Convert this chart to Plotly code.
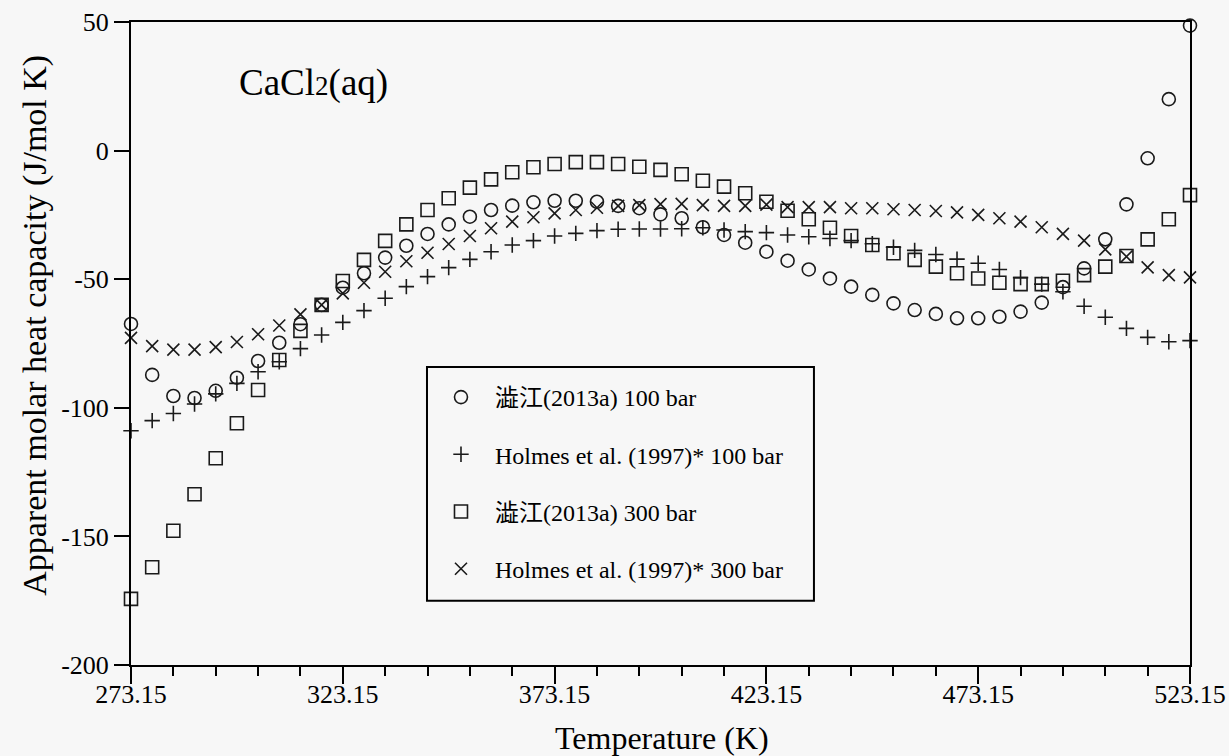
import plotly.graph_objects as go

# Temperature grid (K)
temperature_K = [
    273.15, 278.15, 283.15, 288.15, 293.15, 298.15, 303.15, 308.15, 313.15, 318.15,
    323.15, 328.15, 333.15, 338.15, 343.15, 348.15, 353.15, 358.15, 363.15, 368.15,
    373.15, 378.15, 383.15, 388.15, 393.15, 398.15, 403.15, 408.15, 413.15, 418.15,
    423.15, 428.15, 433.15, 438.15, 443.15, 448.15, 453.15, 458.15, 463.15, 468.15,
    473.15, 478.15, 483.15, 488.15, 493.15, 498.15, 503.15, 508.15, 513.15, 518.15,
    523.15,
]

# Apparent molar heat capacity, J/(mol K)
shibue_100bar = [
    -67.4, -87.2, -95.4, -96.2, -93.4, -88.3, -81.8, -74.7, -67.5, -60.0,
    -53.3, -47.7, -41.6, -37.0, -32.4, -28.7, -25.7, -23.1, -21.4, -20.1,
    -19.5, -19.5, -19.9, -21.5, -22.4, -24.8, -26.3, -29.8, -32.8, -35.8,
    -39.3, -42.8, -46.2, -49.7, -52.9, -56.1, -59.4, -62.0, -63.5, -65.2,
    -65.2, -64.6, -62.6, -59.1, -53.1, -45.8, -34.5, -20.9, -3.0, 20.0,
    48.6,
]
holmes_100bar = [
    -108.9, -105.0, -102.2, -98.5, -94.6, -90.5, -86.0, -82.1, -77.0, -71.7,
    -66.8, -62.2, -57.4, -52.9, -49.0, -45.5, -42.3, -39.3, -36.7, -35.0,
    -33.2, -32.2, -31.1, -30.6, -30.5, -30.5, -30.4, -30.0, -30.9, -31.5,
    -31.9, -32.8, -33.5, -34.2, -35.0, -36.2, -37.6, -38.8, -40.4, -42.2,
    -43.8, -46.2, -49.4, -51.9, -54.9, -60.5, -64.8, -69.1, -72.6, -74.3,
    -73.9,
]
shibue_300bar = [
    -174.3, -162.0, -147.8, -133.6, -119.6, -106.0, -93.1, -81.4, -70.1, -60.0,
    -50.7, -42.5, -35.1, -28.7, -23.1, -18.5, -14.4, -11.2, -8.4, -6.5,
    -5.2, -4.5, -4.5, -5.2, -6.3, -7.5, -9.2, -11.7, -14.0, -16.6,
    -19.9, -23.4, -26.7, -30.0, -33.2, -36.7, -39.9, -42.5, -45.1, -47.7,
    -49.7, -51.4, -51.9, -51.9, -50.6, -48.4, -45.1, -41.0, -34.5, -26.7,
    -17.3,
]
holmes_300bar = [
    -72.8, -76.0, -77.4, -77.4, -76.4, -74.4, -71.4, -68.0, -63.7, -60.0,
    -55.5, -51.4, -47.1, -43.0, -39.7, -36.3, -33.2, -30.2, -27.6, -25.9,
    -24.4, -23.1, -22.2, -21.5, -21.2, -20.8, -20.7, -21.2, -21.5, -21.5,
    -21.0, -22.0, -22.0, -22.0, -22.4, -22.4, -22.8, -23.1, -23.5, -24.0,
    -25.0, -26.3, -27.6, -29.8, -32.4, -35.0, -38.4, -41.2, -45.4, -48.4,
    -49.3,
]

x_tick_values = [273.15, 323.15, 373.15, 423.15, 473.15, 523.15]
x_tick_labels = ["273.15", "323.15", "373.15", "423.15", "473.15", "523.15"]
y_tick_values = [-200, -150, -100, -50, 0, 50]
y_tick_labels = ["-200", "-150", "-100", "-50", "0", "50"]

series_names = [
    "澁江(2013a) 100 bar",
    "Holmes et al. (1997)* 100 bar",
    "澁江(2013a) 300 bar",
    "Holmes et al. (1997)* 300 bar",
]
series_values = [shibue_100bar, holmes_100bar, shibue_300bar, holmes_300bar]

SERIF = "Liberation Serif, Times New Roman, Noto Sans CJK JP, serif"
INK = "#1a1a1a"
BG = "#f7f7f7"

marker_styles = [
    dict(symbol="circle-open", size=13),
    dict(symbol="cross-thin-open", size=11),
    dict(symbol="square-open", size=13),
    dict(symbol="x-thin-open", size=12),
]

fig = go.Figure()
for k, (name, values, style) in enumerate(zip(series_names, series_values, marker_styles)):
    fig.add_trace(go.Scatter(
        x=temperature_K,
        y=values,
        mode="markers",
        name=name,
        legendgroup=f"g{k}",
        cliponaxis=False,
        marker=dict(symbol=style["symbol"], size=style["size"], color=INK,
                    line=dict(width=1.6, color=INK)),
    ))

axis_common = dict(
    showline=True, linewidth=2, linecolor="black", mirror=True,
    ticks="outside", tickwidth=2, tickcolor="black",
    showgrid=False, zeroline=False,
    tickfont=dict(family=SERIF, size=26, color="black"),
)

fig.update_xaxes(
    range=[273.15, 523.15],
    tickmode="array", tickvals=x_tick_values, ticktext=x_tick_labels,
    ticklen=17, ticklabelstandoff=-12,
    minor=dict(tick0=273.15, dtick=10, ticks="outside", ticklen=9, tickwidth=2, tickcolor="black"),
    **axis_common,
)
fig.update_yaxes(
    range=[-200, 50],
    tickmode="array", tickvals=y_tick_values, ticktext=y_tick_labels,
    ticklen=15,
    **axis_common,
)

# Axis titles
fig.add_annotation(
    x=0.5014, y=-0.1135, xref="paper", yref="paper",
    xanchor="center", yanchor="middle", showarrow=False,
    text="Temperature (K)",
    font=dict(family=SERIF, size=32, color="black"),
)
fig.add_annotation(
    x=-0.0907, y=0.529, xref="paper", yref="paper",
    xanchor="center", yanchor="middle", showarrow=False, textangle=-90,
    text="Apparent molar heat capacity (J/mol K)",
    font=dict(family=SERIF, size=34, color="black"),
)

# Solute label
fig.add_annotation(
    x=0.100, y=0.905, xref="paper", yref="paper",
    xanchor="left", yanchor="middle", showarrow=False,
    text="CaCl<span style='font-size:27px'>2</span>(aq)",
    font=dict(family=SERIF, size=37, color="black"),
)

# Frame around the legend
fig.add_shape(
    type="rect", xref="paper", yref="paper",
    x0=0.2795, x1=0.6449, y0=0.1000, y1=0.4635,
    line=dict(color="black", width=2), fillcolor="rgba(0,0,0,0)",
)

fig.update_layout(
    width=1229, height=756,
    margin=dict(l=131, r=39, t=22, b=91, autoexpand=False),
    paper_bgcolor=BG, plot_bgcolor=BG,
    showlegend=True,
    legend=dict(
        x=0.2795, y=0.451, xanchor="left", yanchor="top",
        bgcolor="rgba(0,0,0,0)", borderwidth=0,
        font=dict(family=SERIF, size=24, color="black"),
        tracegroupgap=23, itemwidth=58,
    ),
)

fig.write_html("out.html")
